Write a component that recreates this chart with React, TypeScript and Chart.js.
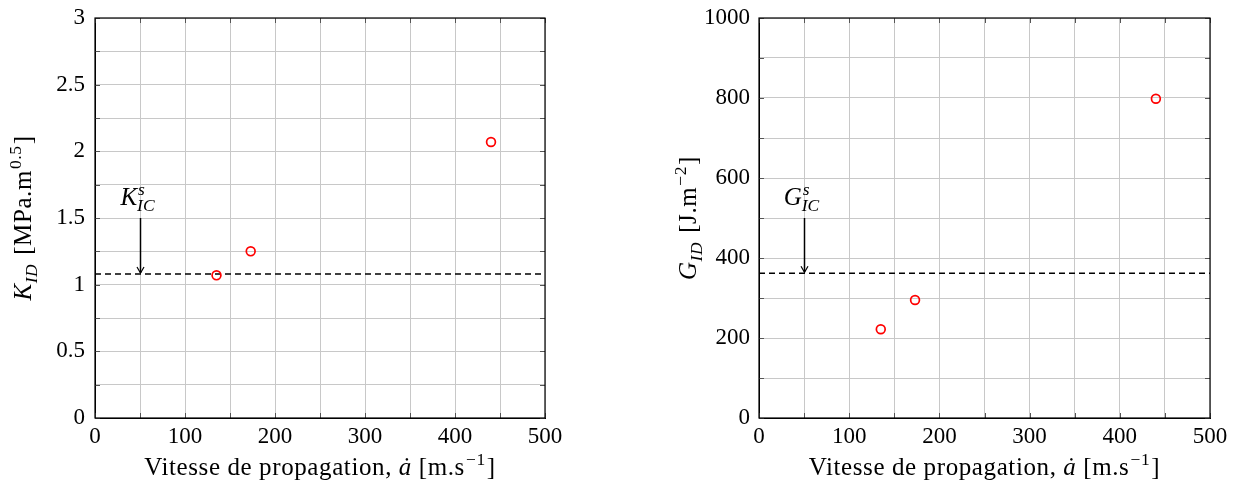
import React, { useEffect, useRef } from 'react';
import { Chart, registerables } from 'chart.js';

Chart.register(...registerables);

// ---- data ----
const speeds = [135, 173, 440];
const kValues = [1.07, 1.25, 2.07];
const gValues = [222, 295, 798];
const xRange = [0, 500];
const kRange = [0, 3];
const gRange = [0, 1000];
const xGridStep = 50;
const xLabelStep = 100;
const kGridStep = 0.25;
const kLabelStep = 0.5;
const gGridStep = 100;
const gLabelStep = 200;
const kThreshold = 1.08;
const gThreshold = 362;
const arrowX = 50;
const kArrowTop = 1.5;
const gArrowTop = 500;

const FONT = '"Liberation Serif", "DejaVu Serif", serif';

type Seg = { t?: string; it?: boolean; sup?: string; sub?: string; supIt?: boolean; subIt?: boolean };

function fnt(size: number, it?: boolean) {
  return `${it ? 'italic ' : ''}${size}px ${FONT}`;
}

function segWidth(ctx: CanvasRenderingContext2D, s: Seg, size: number) {
  if (s.t !== undefined) {
    ctx.font = fnt(size, s.it);
    return ctx.measureText(s.t).width;
  }
  const ss = size * 0.7;
  let w = 0;
  if (s.sup) {
    ctx.font = fnt(ss, s.supIt);
    w = Math.max(w, ctx.measureText(s.sup).width);
  }
  if (s.sub) {
    ctx.font = fnt(ss, s.subIt);
    w = Math.max(w, ctx.measureText(s.sub).width);
  }
  return w + 2;
}

function drawRich(ctx: CanvasRenderingContext2D, segs: Seg[], x: number, y: number, size: number, spacing = 0) {
  (ctx as any).letterSpacing = `${spacing}px`;
  const total = segs.reduce((a, s) => a + segWidth(ctx, s, size), 0);
  let cx = x - total / 2;
  ctx.textAlign = 'left';
  ctx.textBaseline = 'alphabetic';
  ctx.fillStyle = '#000';
  for (const s of segs) {
    const w = segWidth(ctx, s, size);
    if (s.t !== undefined) {
      ctx.font = fnt(size, s.it);
      ctx.fillText(s.t, cx, y);
    } else {
      const ss = size * 0.7;
      if (s.sup) {
        ctx.font = fnt(ss, s.supIt);
        ctx.fillText(s.sup, cx + 1, y - size * 0.4);
      }
      if (s.sub) {
        ctx.font = fnt(ss, s.subIt);
        ctx.fillText(s.sub, cx, y + size * 0.25);
      }
    }
    cx += w;
  }
  (ctx as any).letterSpacing = '0px';
}

const xTitle: Seg[] = [
  { t: 'Vitesse de propagation, ' },
  { t: 'ȧ', it: true },
  { t: ' [m.s' },
  { sup: '−1' },
  { t: ']' },
];
const kTitle: Seg[] = [
  { t: 'K', it: true },
  { sub: 'ID', subIt: true },
  { t: ' [MPa.m' },
  { sup: '0.5' },
  { t: ']' },
];
const gTitle: Seg[] = [
  { t: 'G', it: true },
  { sub: 'ID', subIt: true },
  { t: ' [J.m' },
  { sup: '−2' },
  { t: ']' },
];
const kLabel: Seg[] = [{ t: 'K', it: true }, { sup: 's', supIt: true, sub: 'IC', subIt: true }];
const gLabel: Seg[] = [{ t: 'G', it: true }, { sup: 's', supIt: true, sub: 'IC', subIt: true }];

type Panel = {
  values: number[];
  yRange: number[];
  yGridStep: number;
  yLabelStep: number;
  threshold: number;
  arrowTop: number;
  yTitle: Seg[];
  label: Seg[];
  yAxisWidth: number;
  padRight: number;
  yTitleX: number;
  yTickPad: number;
};

function makeOverlay(p: Panel) {
  return {
    id: 'overlay',
    afterDatasetsDraw(chart: any) {
      const ctx: CanvasRenderingContext2D = chart.ctx;
      const a = chart.chartArea;
      const xs = chart.scales.x;
      const ys = chart.scales.y;
      ctx.save();
      // inner tick marks
      ctx.strokeStyle = '#555';
      ctx.lineWidth = 1;
      ctx.beginPath();
      for (const t of xs.ticks) {
        const px = Math.round(xs.getPixelForValue(t.value)) + 0.5;
        ctx.moveTo(px, a.bottom);
        ctx.lineTo(px, a.bottom - 5);
        ctx.moveTo(px, a.top);
        ctx.lineTo(px, a.top + 5);
      }
      for (const t of ys.ticks) {
        const py = Math.round(ys.getPixelForValue(t.value)) + 0.5;
        ctx.moveTo(a.left, py);
        ctx.lineTo(a.left + 5, py);
        ctx.moveTo(a.right, py);
        ctx.lineTo(a.right - 5, py);
      }
      ctx.stroke();
      // frame
      ctx.strokeStyle = '#000';
      ctx.lineWidth = 1.2;
      ctx.strokeRect(a.left, a.top, a.right - a.left, a.bottom - a.top);
      // arrow
      const ax = Math.round(xs.getPixelForValue(arrowX)) + 0.5;
      const y0 = ys.getPixelForValue(p.arrowTop);
      const y1 = ys.getPixelForValue(p.threshold) - 1;
      ctx.strokeStyle = '#000';
      ctx.lineWidth = 1.5;
      ctx.beginPath();
      ctx.moveTo(ax, y0);
      ctx.lineTo(ax, y1);
      ctx.stroke();
      ctx.beginPath();
      ctx.lineWidth = 1.2;
      ctx.moveTo(ax - 3.5, y1 - 6);
      ctx.lineTo(ax, y1);
      ctx.lineTo(ax + 3.5, y1 - 6);
      ctx.stroke();
      // label
      drawRich(ctx, p.label, ax - 2, y0 - 13, 25);
      ctx.restore();
    },
    afterDraw(chart: any) {
      const ctx: CanvasRenderingContext2D = chart.ctx;
      const a = chart.chartArea;
      ctx.save();
      drawRich(ctx, xTitle, (a.left + a.right) / 2, chart.height - 11, 25, 0.6);
      ctx.translate(p.yTitleX, (a.top + a.bottom) / 2);
      ctx.rotate(-Math.PI / 2);
      drawRich(ctx, p.yTitle, 0, 0, 25, 0.6);
      ctx.restore();
    },
  };
}

function isMultiple(v: number, step: number) {
  const r = v / step;
  return Math.abs(r - Math.round(r)) < 1e-6;
}

function ChartPanel({ p, left, width }: { p: Panel; left: number; width: number }) {
  const ref = useRef<HTMLCanvasElement>(null);
  useEffect(() => {
    if (!ref.current) return;
    const chart = new Chart(ref.current, {
      type: 'scatter',
      data: {
        datasets: [
          {
            data: speeds.map((x, i) => ({ x, y: p.values[i] })),
            pointStyle: 'circle',
            pointRadius: 4.4,
            pointBorderWidth: 1.7,
            pointBorderColor: '#ff0000',
            pointBackgroundColor: 'rgba(255,255,255,0)',
            borderColor: '#ff0000',
            showLine: false,
            order: 0,
          },
          {
            data: [
              { x: xRange[0], y: p.threshold },
              { x: xRange[1], y: p.threshold },
            ],
            showLine: true,
            borderColor: '#000',
            borderWidth: 1.5,
            borderDash: [6, 4],
            pointRadius: 0,
            order: 1,
          },
        ] as any,
      },
      options: {
        animation: false,
        responsive: false,
        layout: { padding: { left: 0, top: 18, right: p.padRight, bottom: 0 } },
        plugins: { legend: { display: false }, tooltip: { enabled: false }, title: { display: false } },
        scales: {
          x: {
            type: 'linear',
            min: xRange[0],
            max: xRange[1],
            afterFit: (s: any) => {
              s.height = 68;
            },
            ticks: {
              stepSize: xGridStep,
              autoSkip: false,
              maxRotation: 0,
              padding: 7,
              color: '#000',
              font: { family: FONT, size: 23, lineHeight: 1 },
              callback: (v: any) => (isMultiple(Number(v), xLabelStep) ? String(v) : ''),
            },
            grid: { color: '#c8c8c8', lineWidth: 1, drawTicks: false },
            border: { display: true, color: '#000', width: 1 },
          },
          y: {
            type: 'linear',
            min: p.yRange[0],
            max: p.yRange[1],
            afterFit: (s: any) => {
              s.width = p.yAxisWidth;
              s.paddingTop = 0;
              s.paddingBottom = 0;
            },
            ticks: {
              stepSize: p.yGridStep,
              autoSkip: false,
              padding: p.yTickPad,
              color: '#000',
              font: { family: FONT, size: 23, lineHeight: 1 },
              callback: (v: any) => (isMultiple(Number(v), p.yLabelStep) ? String(Number(v)) : ''),
            },
            grid: { color: '#c8c8c8', lineWidth: 1, drawTicks: false },
            border: { display: true, color: '#000', width: 1 },
          },
        },
      } as any,
      plugins: [makeOverlay(p)],
    });
    return () => chart.destroy();
  }, []);
  return (
    <canvas
      ref={ref}
      width={width}
      height={486}
      style={{ position: 'absolute', left, top: 0, width, height: 486 }}
    />
  );
}

const kPanel: Panel = {
  values: kValues,
  yRange: kRange,
  yGridStep: kGridStep,
  yLabelStep: kLabelStep,
  threshold: kThreshold,
  arrowTop: kArrowTop,
  yTitle: kTitle,
  label: kLabel,
  yAxisWidth: 95,
  padRight: 75,
  yTitleX: 31,
  yTickPad: 10,
};

const gPanel: Panel = {
  values: gValues,
  yRange: gRange,
  yGridStep: gGridStep,
  yLabelStep: gLabelStep,
  threshold: gThreshold,
  arrowTop: gArrowTop,
  yTitle: gTitle,
  label: gLabel,
  yAxisWidth: 139,
  padRight: 31,
  yTitleX: 696 - 620,
  yTickPad: 9,
};

export default function App() {
  return (
    <div style={{ position: 'absolute', left: 0, top: 0, width: 1241, height: 486, background: '#fff' }}>
      <ChartPanel p={kPanel} left={0} width={620} />
      <ChartPanel p={gPanel} left={620} width={621} />
    </div>
  );
}
